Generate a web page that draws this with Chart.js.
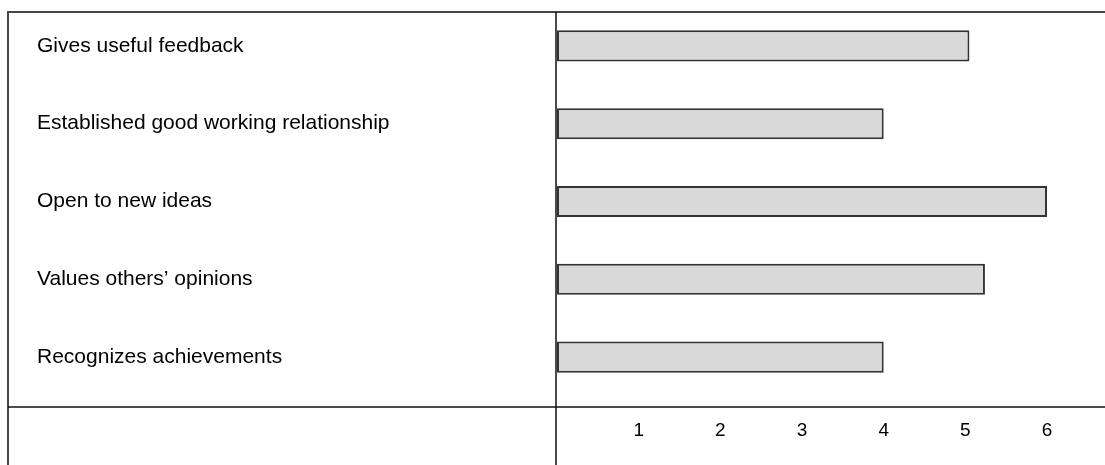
<!DOCTYPE html>
<html>
<head>
<meta charset="utf-8">
<script src="https://cdn.jsdelivr.net/npm/chart.js@4"></script>
<style>
  html, body { margin: 0; padding: 0; background: #fff; }
  #wrap { width: 1105px; height: 465px; }
</style>
</head>
<body>
<div id="wrap"><canvas id="barChart" width="1105" height="465"></canvas></div>
<script>
const categories = [
    "Gives useful feedback",
    "Established good working relationship",
    "Open to new ideas",
    "Values others\u2019 opinions",
    "Recognizes achievements"
];
const scores = [5.05, 4, 6, 5.24, 4];
const tickValues = [1, 2, 3, 4, 5, 6];

const ctx = document.getElementById("barChart").getContext("2d");
const font = "'Liberation Sans', Arial, sans-serif";

// frame lines around the table-like layout
const frameLines = {
    id: "frameLines",
    afterDraw(chart) {
        const c = chart.ctx;
        const left = chart.chartArea.left;
        c.save();
        c.strokeStyle = "#444";
        c.lineWidth = 2;
        c.beginPath();
        c.moveTo(7, 12); c.lineTo(1105, 12);
        c.moveTo(8, 12); c.lineTo(8, 465);
        c.stroke();
        c.strokeStyle = "#111";
        c.lineWidth = 1.5;
        c.beginPath();
        c.moveTo(left - 1, 12); c.lineTo(left - 1, 465);
        c.moveTo(8, 407); c.lineTo(1105, 407);
        c.stroke();
        c.restore();
    }
};

new Chart(ctx, {
    type: "bar",
    data: {
        labels: categories,
        datasets: [{
            data: scores,
            backgroundColor: "#d9d9d9",
            borderColor: "#333",
            borderWidth: 2,
            borderSkipped: false,
            barPercentage: 0.4,
            categoryPercentage: 1
        }]
    },
    options: {
        indexAxis: "y",
        responsive: false,
        animation: false,
        layout: { padding: { left: 37, top: 7, right: 0, bottom: 0 } },
        plugins: { legend: { display: false }, tooltip: { enabled: false } },
        scales: {
            y: {
                grid: { display: false, drawTicks: false },
                border: { display: false },
                ticks: {
                    crossAlign: "far",
                    color: "#000",
                    font: { family: font, size: 21 }
                },
                afterFit: s => {
                    s.width = 520;
                    s.paddingTop = 0;
                    s.paddingBottom = 0;
                }
            },
            x: {
                min: 0,
                max: 6.71,
                grid: { display: false, drawTicks: false },
                border: { display: false },
                afterBuildTicks: s => { s.ticks = tickValues.map(v => ({ value: v })); },
                ticks: {
                    color: "#000",
                    padding: 23,
                    font: { family: font, size: 19 }
                },
                afterFit: s => {
                    s.height = 69;
                    s.paddingLeft = 0;
                    s.paddingRight = 0;
                }
            }
        }
    },
    plugins: [frameLines]
});
</script>
</body>
</html>
